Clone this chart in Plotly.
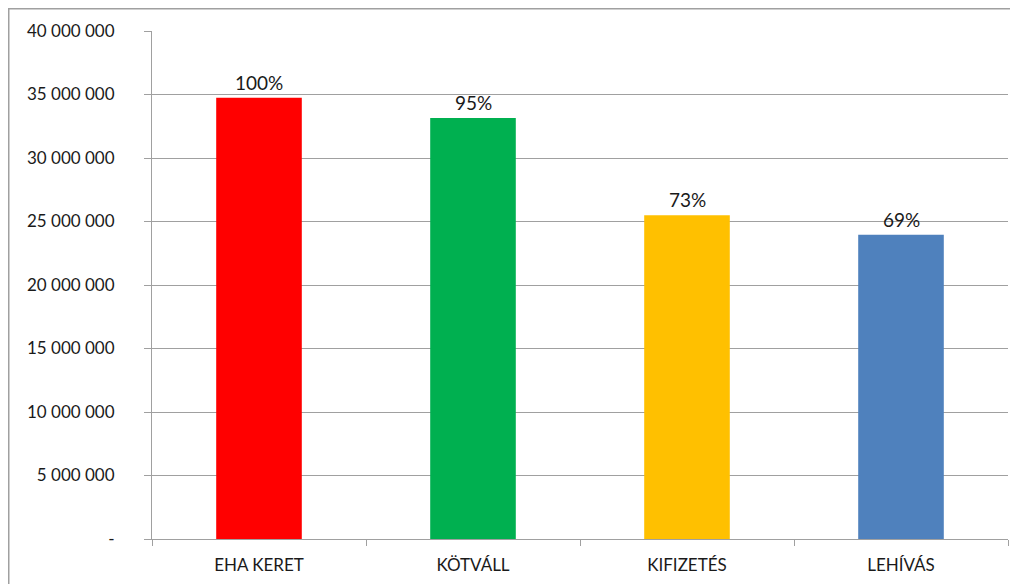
import plotly.graph_objects as go

categories = ["EHA KERET", "KÖTVÁLL", "KIFIZETÉS", "LEHÍVÁS"]
values = [34750000, 33150000, 25500000, 23950000]
pct_labels = ["100%", "95%", "73%", "69%"]
colors = ["#FF0000", "#00B050", "#FFC000", "#4F81BD"]
ytick_vals = [0, 5000000, 10000000, 15000000, 20000000, 25000000, 30000000, 35000000, 40000000]
ytick_text = ["-", "5 000 000", "10 000 000", "15 000 000", "20 000 000",
              "25 000 000", "30 000 000", "35 000 000", "40 000 000"]

# page body has an 8px margin; figure is sized to fit the viewport
W, H = 1010, 576
L, R, T, B = 144, 10, 23, 45
FONT = "Lato, Liberation Sans, sans-serif"
GRID = "#a0a0a0"
TXT = "#1a1a1a"

fig = go.Figure(go.Bar(
    x=categories, y=values, marker_color=colors, marker_line_width=0,
))

for c, v, t in zip(categories, values, pct_labels):
    fig.add_annotation(x=c, y=v, text=t, showarrow=False, yanchor="bottom",
                       yshift=2, font=dict(family=FONT, size=19, color=TXT))

pw = W - L - R
ph = H - T - B
fig.add_shape(type="rect", xref="paper", yref="paper",
              x0=(0.5 - L) / pw, x1=(W + 20 - L) / pw,
              y0=-(H + 20 - (H - B)) / ph, y1=((H - B) - 0.5) / ph,
              line=dict(color="#a0a0a0", width=2), fillcolor="rgba(0,0,0,0)")

fig.update_layout(
    width=W, height=H,
    margin=dict(l=L, r=R, t=T, b=B),
    paper_bgcolor="white", plot_bgcolor="white",
    bargap=0.6, showlegend=False,
    font=dict(family=FONT, size=17, color=TXT),
)
fig.update_yaxes(
    range=[0, 40000000], tickvals=ytick_vals, ticktext=ytick_text,
    showgrid=True, gridcolor=GRID, gridwidth=1,
    showline=True, linecolor=GRID, linewidth=1,
    ticks="outside", ticklen=7, tickcolor=GRID,
    ticklabelstandoff=26, zeroline=False,
    tickfont=dict(family=FONT, size=17, color=TXT),
)
fig.update_xaxes(
    showline=True, linecolor=GRID, linewidth=1,
    ticks="outside", ticklen=6, tickcolor=GRID, tickson="boundaries",
    ticklabelstandoff=11,
    tickfont=dict(family=FONT, size=17, color=TXT),
)

fig.write_html("out.html")
